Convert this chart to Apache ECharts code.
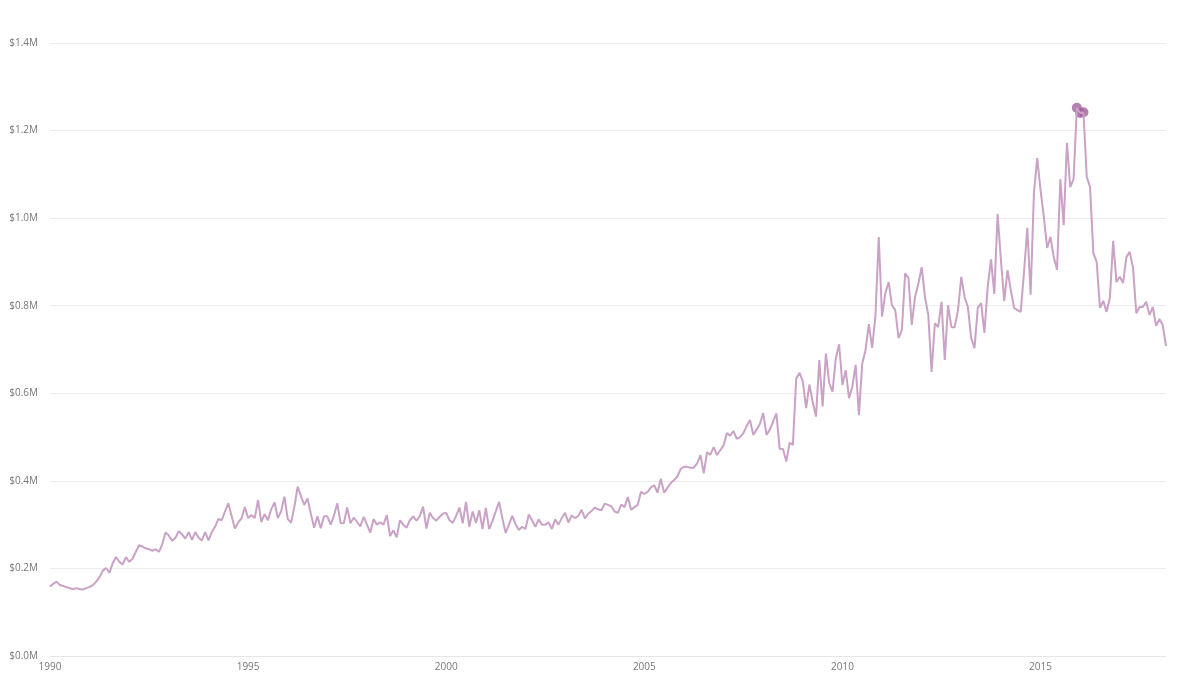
<!DOCTYPE html>
<html>
<head>
    <meta charset="UTF-8"><title>chart</title>
    <script type="text/javascript" src="https://cdn.jsdelivr.net/npm/echarts@6/dist/echarts.min.js"></script>
</head>
<body style="margin:0">
<div id="chart" style="width:1200px; height:696px;"></div>
<script>
    // monthly values in $K, Jan 1990 .. Mar 2018
    var startYear = 1990;
    var y1990 = [158,165,170,162,160,157,155,152,155,153,152,155];
    var y1991 = [158,162,170,180,195,201,190,212,226,215,209,226];
    var y1992 = [215,222,238,253,250,246,244,240,244,238,255,282];
    var y1993 = [275,263,270,285,278,268,283,265,283,270,264,283];
    var y1994 = [264,283,295,313,310,330,349,320,291,305,314,340];
    var y1995 = [315,322,315,356,306,324,310,335,351,315,330,364];
    var y1996 = [313,304,340,387,365,345,360,325,293,319,292,319];
    var y1997 = [319,300,320,349,304,303,339,303,316,306,296,318];
    var y1998 = [300,282,313,300,305,300,322,274,287,271,310,300];
    var y1999 = [293,310,319,309,320,341,291,327,315,309,318,325];
    var y2000 = [327,310,304,320,339,303,352,295,330,304,333,290];
    var y2001 = [338,290,308,330,352,315,281,300,320,301,288,295];
    var y2002 = [290,323,310,295,312,300,300,305,290,312,300,315];
    var y2003 = [327,305,321,315,320,334,314,325,331,339,335,333];
    var y2004 = [348,345,342,330,327,346,340,363,334,340,345,375];
    var y2005 = [370,375,385,390,373,405,373,384,395,402,410,427];
    var y2006 = [432,432,430,430,440,459,417,465,460,477,459,470];
    var y2007 = [481,509,503,514,496,500,509,525,539,505,517,530];
    var y2008 = [555,505,517,535,554,473,473,444,487,482,633,647];
    var y2009 = [627,566,620,580,547,676,570,691,623,604,680,712];
    var y2010 = [619,653,589,615,665,550,668,699,758,704,776,957];
    var y2011 = [775,829,854,801,790,726,744,874,863,756,820,850];
    var y2012 = [888,820,779,649,760,751,809,676,801,751,751,790];
    var y2013 = [866,820,797,726,703,795,806,738,843,906,827,1010];
    var y2014 = [904,811,881,836,795,790,786,877,978,825,1057,1137];
    var y2015 = [1064,1003,932,957,911,882,1089,984,1172,1071,1089,1252];
    var y2016 = [1240,1242,1094,1071,920,900,795,811,786,818,948,854];
    var y2017 = [866,852,911,923,888,783,797,797,809,779,797,754];
    var y2018 = [770,756,708];
    var highlighted = [311, 312, 313]; // month indexes of the marked points
    var yTicks = ['$0.0M','$0.2M','$0.4M','$0.6M','$0.8M','$1.0M','$1.2M','$1.4M'];

    var values = [].concat(y1990,y1991,y1992,y1993,y1994,y1995,y1996,y1997,y1998,y1999,
        y2000,y2001,y2002,y2003,y2004,y2005,y2006,y2007,y2008,y2009,
        y2010,y2011,y2012,y2013,y2014,y2015,y2016,y2017,y2018);
    var lineData = values.map(function (v, i) { return [startYear + i / 12, v]; });
    var dotData = highlighted.map(function (i) { return lineData[i]; });

    var option = {
        animation: false,
        grid: {left: 50, right: 34, top: 43, bottom: 40},
        xAxis: {
            type: 'value',
            min: 1990, max: 1990 + (values.length - 1) / 12, interval: 5,
            axisLine: {show: true, lineStyle: {color: '#e6e6e6'}},
            axisTick: {show: false},
            splitLine: {show: false},
            axisLabel: {
                color: '#777', fontSize: 10, fontFamily: 'Open Sans', margin: 6,
                showMaxLabel: false,
                formatter: function (v) { return String(Math.round(v)); }
            }
        },
        yAxis: {
            type: 'value', min: 0, max: 1400, interval: 200,
            axisLine: {show: false}, axisTick: {show: false},
            splitLine: {lineStyle: {color: '#ececec'}},
            axisLabel: {
                color: '#777', fontSize: 10, fontFamily: 'Open Sans', margin: 12,
                formatter: function (v) { return yTicks[Math.round(v / 200)]; }
            }
        },
        series: [
            {
                type: 'line', data: lineData, showSymbol: false,
                lineStyle: {color: '#c9a2c6', width: 2}
            },
            {
                type: 'scatter', data: dotData, symbolSize: 10,
                itemStyle: {color: '#a0609d'}
            }
        ]
    };

    var myChart = echarts.init(document.getElementById('chart'));
    myChart.setOption(option);
</script>
</body>
</html>
